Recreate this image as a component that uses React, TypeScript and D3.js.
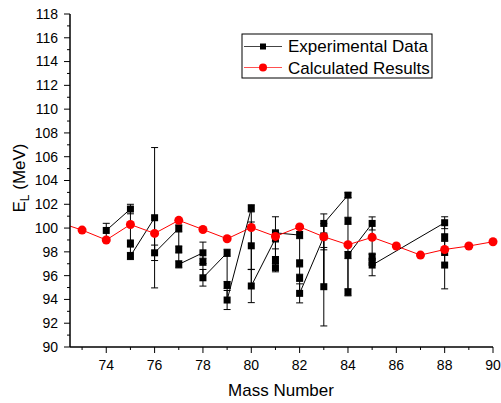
import React from "react";
import * as d3 from "d3";

const calcMass = [72, 73, 74, 75, 76, 77, 78, 79, 80, 81, 82, 83, 84, 85, 86, 87, 88, 89, 90];
const calcValue = [100.5, 99.83, 99.0, 100.3, 99.55, 100.65, 99.88, 99.1, 100.05, 99.3, 100.1, 99.27, 98.6, 99.22, 98.49, 97.73, 98.2, 98.49, 98.85];

const expMass = [74, 75, 75, 75, 76, 76, 77, 77, 77, 78, 78, 78, 79, 79, 79, 80, 80, 80, 81, 81, 81, 81, 82, 82, 82, 82, 83, 83, 83, 84, 84, 84, 84, 85, 85, 85, 85, 88, 88, 88, 88];
const expValue = [99.8, 101.6, 98.7, 97.65, 100.87, 97.92, 99.97, 98.2, 96.95, 97.92, 97.17, 95.82, 97.92, 95.21, 93.95, 101.66, 98.51, 95.13, 99.13, 97.31, 96.67, 99.6, 99.41, 97.03, 95.82, 94.51, 99.27, 95.07, 100.39, 102.77, 100.61, 94.6, 97.73, 100.39, 97.59, 97.17, 96.89, 100.45, 99.22, 98.0, 96.89];
const expError = [0.6, 0.4, 0.3, 0.3, 5.9, 0.65, 0.3, 0.3, 0.3, 0.9, 0.3, 0.7, 0.3, 0.3, 0.8, 0.3, 2.0, 1.4, 0.3, 0.3, 0.35, 1.35, 0.3, 0.3, 0.3, 0.8, 1.1, 3.3, 0.8, 0.2, 0.3, 0.3, 0.3, 0.55, 0.3, 0.3, 0.9, 0.5, 0.3, 0.3, 2.0];

const xTicks = [74, 76, 78, 80, 82, 84, 86, 88, 90];
const xMinorTicks = [73, 75, 77, 79, 81, 83, 85, 87, 89];
const yTicks = [90, 92, 94, 96, 98, 100, 102, 104, 106, 108, 110, 112, 114, 116, 118];
const yMinorTicks = [91, 93, 95, 97, 99, 101, 103, 105, 107, 109, 111, 113, 115, 117];

const legendLabels = ["Experimental Data", "Calculated Results"];

export default function App() {
  const W = 501, H = 403;
  const left = 70, right = 493, top = 14, bottom = 347;
  const x = d3.scaleLinear().domain([72.5, 90]).range([left, right]);
  const y = d3.scaleLinear().domain([90, 118]).range([bottom, top]);
  const font = "Arial, 'Liberation Sans', sans-serif";

  const calcPts = calcMass.map((m, i) => [m, calcValue[i]] as [number, number]);
  const expPts = expMass.map((m, i) => [m, expValue[i]] as [number, number]);
  const line = d3.line<[number, number]>().x(d => x(d[0])).y(d => y(d[1]));

  const sq = 7;
  const cap = 3.5;

  return (
    <svg width={W} height={H} style={{ position: "absolute", left: 0, top: 0, display: "block", background: "#fff" }}>
      <defs>
        <clipPath id="plotclip">
          <rect x={left} y={top - 10} width={right - left + 10} height={bottom - top + 10} />
        </clipPath>
      </defs>

      {/* error bars */}
      <g stroke="#000" strokeWidth={1} clipPath="url(#plotclip)">
        {expMass.map((m, i) => {
          const cx = x(m);
          const y1 = y(expValue[i] + expError[i]);
          const y2 = y(expValue[i] - expError[i]);
          return (
            <g key={"e" + i}>
              <line x1={cx} x2={cx} y1={y1} y2={y2} />
              <line x1={cx - cap} x2={cx + cap} y1={y1} y2={y1} />
              <line x1={cx - cap} x2={cx + cap} y1={y2} y2={y2} />
            </g>
          );
        })}
      </g>

      {/* experimental line */}
      <path d={line(expPts) || ""} fill="none" stroke="#000" strokeWidth={1} />

      {/* calculated line */}
      <g clipPath="url(#plotclip)">
        <path d={line(calcPts) || ""} fill="none" stroke="#ff0000" strokeWidth={1} />
      </g>

      {/* experimental markers */}
      {expPts.map((p, i) => (
        <rect key={"s" + i} x={x(p[0]) - sq / 2} y={y(p[1]) - sq / 2} width={sq} height={sq} fill="#000" />
      ))}

      {/* calculated markers */}
      <g clipPath="url(#plotclip)">
        {calcPts.map((p, i) => (
          <circle key={"c" + i} cx={x(p[0])} cy={y(p[1])} r={4.5} fill="#ff0000" />
        ))}
      </g>

      {/* axes */}
      <g stroke="#000" strokeWidth={1.5}>
        <line x1={left} x2={left} y1={top} y2={bottom} />
        <line x1={left} x2={right} y1={bottom} y2={bottom} />
      </g>
      <g stroke="#000" strokeWidth={1}>
        {yTicks.map(t => (
          <line key={"yt" + t} x1={left - 6} x2={left} y1={y(t)} y2={y(t)} />
        ))}
        {yMinorTicks.map(t => (
          <line key={"ym" + t} x1={left - 3} x2={left} y1={y(t)} y2={y(t)} />
        ))}
        {xTicks.map(t => (
          <line key={"xt" + t} x1={x(t)} x2={x(t)} y1={bottom} y2={bottom + 6} />
        ))}
        {xMinorTicks.map(t => (
          <line key={"xm" + t} x1={x(t)} x2={x(t)} y1={bottom} y2={bottom + 3} />
        ))}
      </g>
      <g fontFamily={font} fontSize={14} fill="#000">
        {yTicks.map(t => (
          <text key={"yl" + t} x={left - 12} y={y(t)} dy="0.35em" textAnchor="end">{t}</text>
        ))}
        {xTicks.map(t => (
          <text key={"xl" + t} x={x(t)} y={bottom + 23} textAnchor="middle">{t}</text>
        ))}
      </g>

      <text x={281} y={396} textAnchor="middle" fontFamily={font} fontSize={17} fill="#000">Mass Number</text>
      <text transform="translate(25,178) rotate(-90)" textAnchor="middle" fontFamily={font} fontSize={17} fill="#000">
        E<tspan fontSize={12} dy={4}>L</tspan><tspan dy={-4}> (MeV)</tspan>
      </text>

      {/* legend */}
      <rect x={242} y={34} width={190} height={44} fill="#fff" stroke="#000" strokeWidth={1} />
      <line x1={244} x2={282} y1={46.5} y2={46.5} stroke="#444" strokeWidth={1} />
      <rect x={263 - 3} y={46.5 - 3} width={6} height={6} fill="#000" />
      <line x1={244} x2={282} y1={67.5} y2={67.5} stroke="#ff5050" strokeWidth={1} />
      <circle cx={263} cy={67.5} r={4} fill="#ff0000" />
      <g fontFamily={font} fontSize={17} fill="#000">
        <text x={288} y={52}>{legendLabels[0]}</text>
        <text x={288} y={74}>{legendLabels[1]}</text>
      </g>
    </svg>
  );
}
